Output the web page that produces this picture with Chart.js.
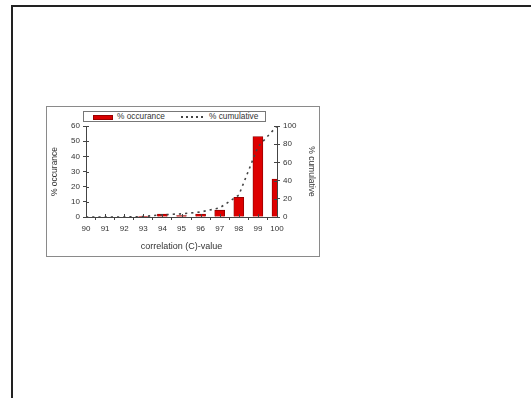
<!DOCTYPE html>
<html>
<head>
<meta charset="utf-8">
<script src="https://cdn.jsdelivr.net/npm/chart.js@4.4.1/dist/chart.umd.min.js"></script>
<style>
  html, body { margin:0; padding:0; background:#fff; width:531px; height:398px; overflow:hidden; }
  #frame { position:absolute; left:11px; top:5px; width:600px; height:500px; border-top:2px solid #222; border-left:2px solid #222; }
  #box { position:absolute; left:46px; top:106px; width:274px; height:151px; border:1px solid #8a8a8a; box-sizing:border-box; background:#fff; }
  #box canvas { position:absolute; left:0; top:0; }
  #legend { position:absolute; left:83px; top:111px; width:183px; height:11px; border:1px solid #777; box-sizing:border-box; background:#fff;
            font-family:"Liberation Sans", Arial, sans-serif; font-size:8.3px; color:#333; }
  .sw1 { position:absolute; left:9px; top:2.5px; width:20px; height:5px; background:#d90000; border:0.5px solid #900; box-sizing:border-box; }
  .t1 { position:absolute; left:33px; top:0px; line-height:9px; }
  .sw2 { position:absolute; left:97px; top:4px; width:25px; height:1.6px; background:repeating-linear-gradient(to right, #444 0 2px, transparent 2px 5px); }
  .t2 { position:absolute; left:125px; top:0px; line-height:9px; }
</style>
</head>
<body>
<div id="frame"></div>
<div id="box"><canvas id="c" width="272" height="149"></canvas></div>
<div id="legend">
  <div class="sw1"></div><div class="t1">% occurance</div>
  <div class="sw2"></div><div class="t2">% cumulative</div>
</div>
<script>
const xValues    = [90, 91, 92, 93, 94, 95, 96, 97, 98, 99, 100];
const occurrence = [0, 0, 0, 0.5, 2, 1, 2, 4.5, 13, 53, 25];
const cumulative = [0, 0, 0, 0.5, 2.5, 3.5, 5.5, 10, 24, 77, 100];
const yLeftTicks  = [0, 10, 20, 30, 40, 50, 60];
const yRightTicks = [0, 20, 40, 60, 80, 100];

const FONT = "'Liberation Sans', Arial, sans-serif";
const AXIS = '#444';
const TXT = '#333';

const innerTicks = {
  id: 'innerTicks',
  afterDatasetsDraw(chart) {
    const ctx = chart.ctx;
    ctx.save();
    ctx.strokeStyle = AXIS;
    ctx.lineWidth = 1;
    const a = chart.chartArea;
    const y = chart.scales.y, y2 = chart.scales.y2, x = chart.scales.x;
    ctx.beginPath();
    y.ticks.forEach(t => { const p = Math.round(y.getPixelForValue(t.value)) + 0.5; ctx.moveTo(a.left, p); ctx.lineTo(a.left + 3, p); });
    y2.ticks.forEach(t => { const p = Math.round(y2.getPixelForValue(t.value)) + 0.5; ctx.moveTo(a.right - 3, p); ctx.lineTo(a.right, p); });
    x.ticks.forEach(t => { const p = Math.round(x.getPixelForValue(t.value)) + 0.5; ctx.moveTo(p, a.bottom); ctx.lineTo(p, a.bottom - 3); });
    ctx.stroke();
    ctx.restore();
  }
};

new Chart(document.getElementById('c'), {
  data: {
    datasets: [
      {
        type: 'line',
        label: '% cumulative',
        data: xValues.map((v, i) => ({ x: v, y: cumulative[i] })),
        yAxisID: 'y2',
        borderColor: '#444',
        borderWidth: 1.6,
        borderDash: [2.2, 4],
        pointRadius: 0,
        tension: 0,
        fill: false,
        order: 0
      },
      {
        type: 'bar',
        label: '% occurance',
        data: xValues.map((v, i) => ({ x: v, y: occurrence[i] })),
        yAxisID: 'y',
        backgroundColor: '#dd0000',
        borderColor: '#8a0000',
        borderWidth: 0.8,
        barThickness: 10,
        clip: 0,
        order: 1
      }
    ]
  },
  options: {
    responsive: false,
    animation: false,
    layout: { padding: { top: 19, left: 0, right: 0, bottom: 0 } },
    plugins: { legend: { display: false }, tooltip: { enabled: false } },
    scales: {
      x: {
        type: 'linear', min: 90, max: 100, offset: false,
        afterBuildTicks: s => { s.ticks = xValues.map(v => ({ value: v })); },
        afterFit: s => { s.height = 39; },
        ticks: { stepSize: 1, color: TXT, font: { family: FONT, size: 8 }, padding: 4, maxRotation: 0, autoSkip: false },
        grid: { display: true, drawOnChartArea: false, tickLength: 3, color: AXIS },
        border: { color: AXIS, width: 1 },
        title: { display: true, text: 'correlation (C)-value', color: TXT, font: { family: FONT, size: 9 }, padding: { top: 0, bottom: 4 } }
      },
      y: {
        position: 'left', min: 0, max: 60,
        afterBuildTicks: s => { s.ticks = yLeftTicks.map(v => ({ value: v })); },
        afterFit: s => { s.width = 39; },
        ticks: { color: TXT, font: { family: FONT, size: 8 }, padding: 3 },
        grid: { display: true, drawOnChartArea: false, tickLength: 3, color: AXIS },
        border: { color: AXIS, width: 1 },
        title: { display: true, text: '% occurance', color: TXT, font: { family: FONT, size: 8.5 }, padding: { top: 3, bottom: 0 } }
      },
      y2: {
        position: 'right', min: 0, max: 100,
        afterBuildTicks: s => { s.ticks = yRightTicks.map(v => ({ value: v })); },
        afterFit: s => { s.width = 42; },
        ticks: { color: TXT, font: { family: FONT, size: 8 }, padding: 3 },
        grid: { display: true, drawOnChartArea: false, tickLength: 3, color: AXIS },
        border: { color: AXIS, width: 1 },
        title: { display: true, text: '% cumulative', color: TXT, font: { family: FONT, size: 8.5 }, padding: { top: 3, bottom: 0 } }
      }
    }
  },
  plugins: [innerTicks]
});
</script>
</body>
</html>
